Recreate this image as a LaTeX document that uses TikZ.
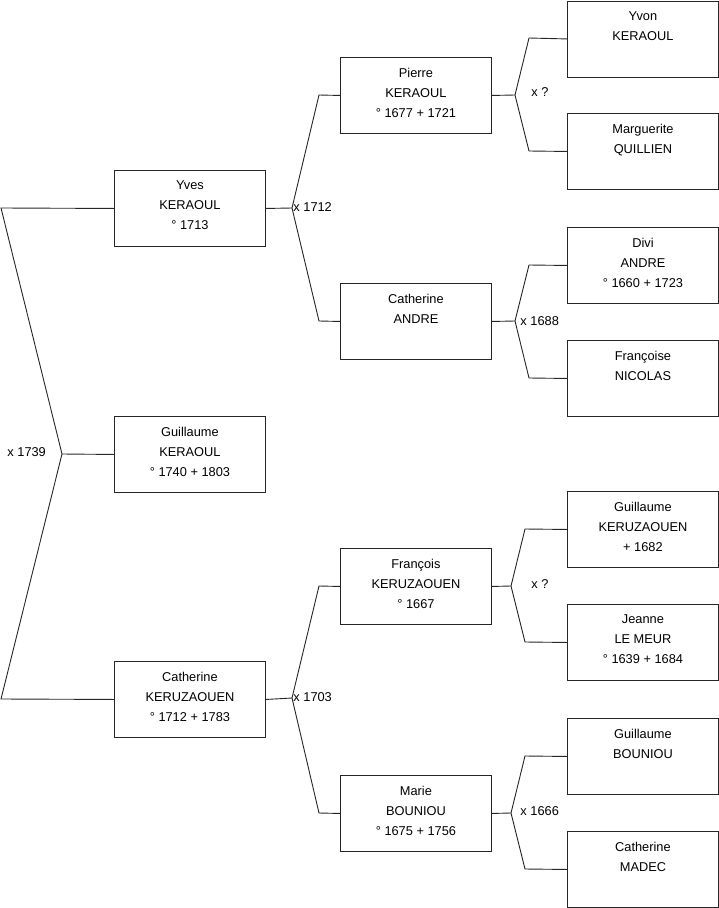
\documentclass[tikz,border=0pt]{standalone}
\usepackage{fontspec}
\setmainfont{Liberation Sans}
\begin{document}
\begin{tikzpicture}[x=1pt,y=-1pt, line width=0.9pt,
 box/.style={draw=black!85, minimum width=151pt, minimum height=76pt, inner sep=0pt, anchor=north west},
 txt/.style={anchor=north, align=center, inner sep=0pt, font=\fontsize{12.8}{20}\selectfont, yshift=-10.5pt},
 lbl/.style={anchor=west, font=\fontsize{12.8}{15}\selectfont, inner sep=0pt},
 link/.style={draw=black!85, line width=0.9pt}]
\useasboundingbox (0,0) rectangle (719,908);
% level 1
\node[box] (yves) at (114,170) {};
\node[box] (guil) at (114,416) {};
\node[box] (cath) at (114,661) {};
% level 2
\node[box] (pierre) at (340,57) {};
\node[box] (andre) at (340,283) {};
\node[box] (franc) at (340,548) {};
\node[box] (marie) at (340,775) {};
% level 3
\node[box] (yvon) at (567,0.5) {};
\node[box] (margu) at (567,113) {};
\node[box] (divi) at (567,227) {};
\node[box] (fnico) at (567,340) {};
\node[box] (guik) at (567,491) {};
\node[box] (jeanne) at (567,604) {};
\node[box] (guib) at (567,718) {};
\node[box] (cathm) at (567,831) {};
% texts
\node[txt] (yvest) at (yves.north) {Yves\\KERAOUL\\° 1713};
\node[txt] (guilt) at (guil.north) {Guillaume\\KERAOUL\\° 1740 + 1803};
\node[txt] (catht) at (cath.north) {Catherine\\KERUZAOUEN\\° 1712 + 1783};
\node[txt] (pierret) at (pierre.north) {Pierre\\KERAOUL\\° 1677 + 1721};
\node[txt] (andret) at (andre.north) {Catherine\\ANDRE};
\node[txt] (franct) at (franc.north) {François\\KERUZAOUEN\\° 1667};
\node[txt] (mariet) at (marie.north) {Marie\\BOUNIOU\\° 1675 + 1756};
\node[txt] (yvont) at (yvon.north) {Yvon\\KERAOUL};
\node[txt] (margut) at (margu.north) {Marguerite\\QUILLIEN};
\node[txt] (divit) at (divi.north) {Divi\\ANDRE\\° 1660 + 1723};
\node[txt] (fnicot) at (fnico.north) {Françoise\\NICOLAS};
\node[txt] (guikt) at (guik.north) {Guillaume\\KERUZAOUEN\\+ 1682};
\node[txt] (jeannet) at (jeanne.north) {Jeanne\\LE MEUR\\° 1639 + 1684};
\node[txt] (guibt) at (guib.north) {Guillaume\\BOUNIOU};
\node[txt] (cathmt) at (cathm.north) {Catherine\\MADEC};
% connector points
\coordinate (a1) at (1,208); \coordinate (v1) at (62,454); \coordinate (b1) at (1,699);
\coordinate (v2) at (292,208); \coordinate (a2) at (319,95); \coordinate (b2) at (319,321);
\coordinate (v3) at (292,698); \coordinate (a3) at (319,586); \coordinate (b3) at (319,813);
\coordinate (v4) at (515,95); \coordinate (a4) at (529,38); \coordinate (b4) at (529,151);
\coordinate (v5) at (515,321); \coordinate (a5) at (529,265); \coordinate (b5) at (529,378);
\coordinate (v6) at (511,586); \coordinate (a6) at (525,529); \coordinate (b6) at (525,642);
\coordinate (v7) at (511,813); \coordinate (a7) at (525,756); \coordinate (b7) at (525,869);
% connectors
\draw[link] (yves.west) -- (a1) -- (v1) -- (b1) -- (cath.west);
\draw[link] (v1) -- (guil.west);
\draw[link] (yves.east) -- (v2);
\draw[link] (pierre.west) -- (a2) -- (v2) -- (b2) -- (andre.west);
\draw[link] (cath.east) -- (v3);
\draw[link] (franc.west) -- (a3) -- (v3) -- (b3) -- (marie.west);
\draw[link] (pierre.east) -- (v4);
\draw[link] (yvon.west) -- (a4) -- (v4) -- (b4) -- (margu.west);
\draw[link] (andre.east) -- (v5);
\draw[link] (divi.west) -- (a5) -- (v5) -- (b5) -- (fnico.west);
\draw[link] (franc.east) -- (v6);
\draw[link] (guik.west) -- (a6) -- (v6) -- (b6) -- (jeanne.west);
\draw[link] (marie.east) -- (v7);
\draw[link] (guib.west) -- (a7) -- (v7) -- (b7) -- (cathm.west);
% marriage labels
\node[lbl] (m1) at (7,452) {x 1739};
\node[lbl] (m2) at (293,207) {x 1712};
\node[lbl] (m3) at (293,697) {x 1703};
\node[lbl] (m4) at (531,92) {x ?};
\node[lbl] (m5) at (520,321) {x 1688};
\node[lbl] (m6) at (531,584) {x ?};
\node[lbl] (m7) at (520,811) {x 1666};
\end{tikzpicture}
\end{document}
